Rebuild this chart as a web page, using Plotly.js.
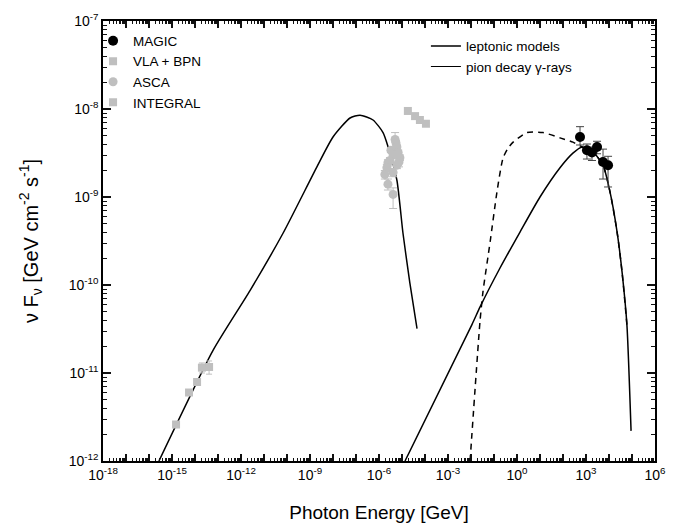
<!DOCTYPE html>
<html>
<head>
<meta charset="utf-8">
<script src="https://cdn.plot.ly/plotly-3.0.1.min.js"></script>
<style>html,body{margin:0;padding:0;background:#fff;}</style>
</head>
<body>
<div id="chart" style="width:680px;height:525px;"></div>
<script>
// ---- data (photon energy in GeV, nuFnu in GeV cm^-2 s^-1) ----
const syncE = [2.7e-16, 6.0e-14, 2.5e-12, 6.8e-11, 2.0e-9, 1.0e-8, 5.5e-8, 1.5e-7, 5.5e-7, 1.5e-6, 2.5e-6, 6.0e-6, 1.1e-5, 2.2e-5, 4.5e-5];
const syncF = [1.0e-12, 1.8e-11, 8.7e-11, 3.9e-10, 2.2e-9, 4.8e-9, 7.9e-9, 8.5e-9, 7.5e-9, 5.4e-9, 3.7e-9, 1.55e-9, 3.9e-10, 1.05e-10, 3.2e-11];

const icE = [1.35e-5, 1.1e-2, 2.45e-2, 1.8e-1, 1.35, 10, 74, 270, 680, 2000, 5500, 1.1e4, 2.25e4, 3.7e4, 6.0e4, 9.1e4];
const icF = [1.0e-12, 3.55e-11, 5.6e-11, 1.55e-10, 4.0e-10, 1.0e-9, 2.15e-9, 3.15e-9, 3.7e-9, 3.25e-9, 2.3e-9, 1.15e-9, 4.0e-10, 1.4e-10, 3.55e-11, 2.2e-12];

const pionE = [9.1e-3, 2.45e-2, 3.3e-2, 6.8e-2, 0.135, 0.245, 0.41, 0.68, 2.7, 13.5, 74, 270, 680, 2000, 5500, 1.1e4, 2.25e4, 3.7e4, 6.0e4];
const pionF = [1.0e-12, 3.8e-11, 8.3e-11, 3.1e-10, 1.15e-9, 2.75e-9, 3.6e-9, 4.2e-9, 5.4e-9, 5.4e-9, 4.7e-9, 4.2e-9, 3.7e-9, 3.25e-9, 2.3e-9, 1.15e-9, 4.0e-10, 1.4e-10, 3.55e-11];

const magicE = [550, 1100, 1820, 3020, 5500, 9100];
const magicF = [4.8e-9, 3.4e-9, 3.2e-9, 3.7e-9, 2.5e-9, 2.3e-9];
const magicErrUp = [1.5e-9, 0.6e-9, 0.5e-9, 0.6e-9, 1.0e-9, 0.6e-9];
const magicErrDn = [0.9e-9, 0.7e-9, 0.6e-9, 0.6e-9, 0.9e-9, 1.0e-9];

const vlaE = [1.5e-15, 5.5e-15, 1.23e-14, 2.0e-14, 4.1e-14];
const vlaF = [2.6e-12, 6.0e-12, 7.9e-12, 1.15e-11, 1.17e-11];
const vlaErr = [0.2e-12, 0.4e-12, 0.6e-12, 1.5e-12, 2.0e-12];

const ascaE = [5.0e-6, 5.5e-6, 3.3e-6, 6.0e-6, 6.8e-6, 4.1e-6, 8.1e-6, 3.0e-6, 2.45e-6, 6.0e-6, 7.4e-6, 2.2e-6, 4.1e-6, 1.8e-6, 2.45e-6, 4.1e-6];
const ascaF = [4.5e-9, 4.1e-9, 3.4e-9, 3.7e-9, 3.2e-9, 3.0e-9, 2.8e-9, 2.6e-9, 2.45e-9, 2.3e-9, 2.5e-9, 2.15e-9, 1.9e-9, 1.8e-9, 1.4e-9, 1.07e-9];
const ascaErrUp = [0.9e-9, 0.3e-9, 0.2e-9, 0.2e-9, 0.2e-9, 0.2e-9, 0.2e-9, 0.2e-9, 0.2e-9, 0.2e-9, 0.2e-9, 0.2e-9, 0.2e-9, 0.2e-9, 0.2e-9, 0.2e-9];
const ascaErrDn = [0.3e-9, 0.3e-9, 0.2e-9, 0.2e-9, 0.2e-9, 0.2e-9, 0.2e-9, 0.2e-9, 0.2e-9, 0.2e-9, 0.3e-9, 0.2e-9, 0.2e-9, 0.2e-9, 0.2e-9, 0.33e-9];

const integralE = [1.8e-5, 3.7e-5, 6.0e-5, 1.1e-4];
const integralF = [9.5e-9, 8.3e-9, 7.5e-9, 6.8e-9];

const xTickExp = [-18,-17,-16,-15,-14,-13,-12,-11,-10,-9,-8,-7,-6,-5,-4,-3,-2,-1,0,1,2,3,4,5,6];
const xLabelEvery = 3;
const yTickExp = [-12,-11,-10,-9,-8,-7];
const minorMantissa = [2,3,4,5,6,7,8,9];

const legendNames = ['MAGIC', 'VLA + BPN', 'ASCA', 'INTEGRAL'];
const modelNames = ['leptonic models', 'pion decay γ-rays'];

// ---- build ----
const gray = '#bfbfbf';
const tickCol = '#111';
const fmt = e => '10<sup>' + (e < 0 ? '-' + (-e) : e) + '</sup>';
const xTickVals = xTickExp.map(e => Math.pow(10, e));
const xTickText = xTickExp.map(e => (e % xLabelEvery === 0) ? fmt(e) : ' ');
const yTickVals = yTickExp.map(e => Math.pow(10, e));
const yTickText = yTickExp.map(fmt);
const minorVals = exps => {
  const out = [];
  exps.slice(0, -1).forEach(e => minorMantissa.forEach(m => out.push(m * Math.pow(10, e))));
  return out;
};

const traces = [
  {x: syncE, y: syncF, mode: 'lines', line: {color: '#000', width: 1.5, shape: 'spline', smoothing: 0.6}, showlegend: false, hoverinfo: 'skip'},
  {x: icE, y: icF, mode: 'lines', line: {color: '#000', width: 1.5, shape: 'spline', smoothing: 0.6}, showlegend: false, hoverinfo: 'skip'},
  {x: pionE, y: pionF, mode: 'lines', line: {color: '#000', width: 1.5, dash: '6px,5px', shape: 'spline', smoothing: 0.6}, showlegend: false, hoverinfo: 'skip'},
  {x: vlaE, y: vlaF, name: legendNames[1], mode: 'markers', marker: {symbol: 'square', size: 8, color: gray},
   error_y: {type: 'data', array: vlaErr, color: gray, thickness: 1, width: 3}, legend: 'legend', legendrank: 2},
  {x: ascaE, y: ascaF, name: legendNames[2], mode: 'markers', marker: {symbol: 'circle', size: 9, color: gray},
   error_y: {type: 'data', symmetric: false, array: ascaErrUp, arrayminus: ascaErrDn, color: gray, thickness: 1, width: 4}, legend: 'legend', legendrank: 3},
  {x: integralE, y: integralF, name: legendNames[3], mode: 'markers', marker: {symbol: 'square', size: 8, color: gray}, legend: 'legend', legendrank: 4},
  {x: magicE, y: magicF, name: legendNames[0], mode: 'markers', marker: {symbol: 'circle', size: 10, color: '#000'},
   error_y: {type: 'data', symmetric: false, array: magicErrUp, arrayminus: magicErrDn, color: '#444', thickness: 1, width: 4}, legend: 'legend', legendrank: 1},
  {x: [null], y: [null], name: modelNames[0], mode: 'lines', line: {color: '#000', width: 1.6}, legend: 'legend2', legendrank: 1},
  {x: [null], y: [null], name: modelNames[1], mode: 'lines', line: {color: '#000', width: 1}, legend: 'legend2', legendrank: 2}
];

const tickFont = {family: 'Arial, Liberation Sans, sans-serif', size: 14, color: '#000'};

const layout = {
  width: 680, height: 525,
  margin: {l: 103, r: 25, t: 21, b: 64},
  font: {family: 'Arial, Liberation Sans, sans-serif', color: '#000'},
  xaxis: {
    type: 'log', range: [-18, 6], showline: true, linecolor: '#000', linewidth: 1.5, mirror: 'ticks',
    showgrid: false, zeroline: false, tickfont: tickFont,
    tickmode: 'array', tickvals: xTickVals, ticktext: xTickText,
    ticks: 'inside', ticklen: 7, tickwidth: 1.5, tickcolor: tickCol,
    minor: {tickmode: 'array', tickvals: minorVals(xTickExp), ticks: 'inside', ticklen: 3, tickcolor: tickCol, tickwidth: 1, showgrid: false},
    title: {text: 'Photon Energy [GeV]', font: {size: 19, color: '#000'}, standoff: 24}
  },
  yaxis: {
    type: 'log', range: [-12, -7], showline: true, linecolor: '#000', linewidth: 1.5, mirror: 'ticks',
    showgrid: false, zeroline: false, tickfont: tickFont,
    tickmode: 'array', tickvals: yTickVals, ticktext: yTickText,
    ticks: 'inside', ticklen: 8, tickwidth: 1.5, tickcolor: tickCol,
    minor: {tickmode: 'array', tickvals: minorVals(yTickExp), ticks: 'inside', ticklen: 4, tickcolor: tickCol, tickwidth: 1, showgrid: false},
    title: {text: 'ν F<sub>ν</sub> [GeV cm<sup>-2</sup> s<sup>-1</sup>]', font: {size: 20, color: '#000'}, standoff: 25}
  },
  legend: {x: -0.018, y: 0.99, xanchor: 'left', yanchor: 'top', bgcolor: 'rgba(0,0,0,0)', borderwidth: 0,
           font: {size: 13.5, color: '#000'}, tracegroupgap: 0},
  legend2: {x: 0.585, y: 0.978, xanchor: 'left', yanchor: 'top', bgcolor: 'rgba(0,0,0,0)', borderwidth: 0,
            font: {size: 13.5, color: '#000'}},
  showlegend: true
};

Plotly.newPlot('chart', traces, layout, {displayModeBar: false});
</script>
</body>
</html>
